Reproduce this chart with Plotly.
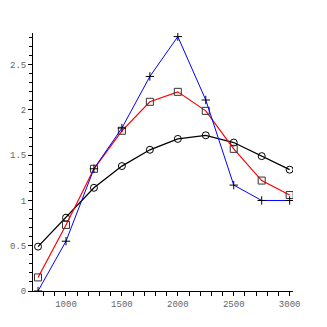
import plotly.graph_objects as go

x_vals = [750, 1000, 1250, 1500, 1750, 2000, 2250, 2500, 2750, 3000]
blue_vals = [0.0, 0.55, 1.35, 1.80, 2.37, 2.81, 2.11, 1.17, 1.00, 1.00]
red_vals = [0.15, 0.73, 1.35, 1.77, 2.09, 2.20, 1.99, 1.57, 1.22, 1.06]
black_vals = [0.49, 0.81, 1.14, 1.38, 1.56, 1.68, 1.72, 1.64, 1.49, 1.34]

fig = go.Figure()
fig.add_trace(go.Scatter(
    x=x_vals, y=black_vals, mode="lines+markers",
    line=dict(color="black", width=1.3),
    marker=dict(symbol="circle-open", size=7, color="black", line=dict(color="#222", width=1)),
))
fig.add_trace(go.Scatter(
    x=x_vals, y=red_vals, mode="lines+markers",
    line=dict(color="red", width=1.2),
    marker=dict(symbol="square-open", size=7, color="#333", line=dict(color="#333", width=1)),
))
fig.add_trace(go.Scatter(
    x=x_vals, y=blue_vals, mode="lines+markers",
    line=dict(color="blue", width=1),
    marker=dict(symbol="cross-thin", size=6, color="black", line=dict(color="black", width=1)),
))

axis_font = dict(family="Liberation Mono, DejaVu Sans Mono, monospace", size=9, color="#666")
fig.update_layout(
    width=319, height=319,
    margin=dict(l=25, r=34, t=25, b=36, autoexpand=False),
    paper_bgcolor="white", plot_bgcolor="white",
    showlegend=False,
    xaxis=dict(
        range=[705, 3030], showgrid=False, zeroline=False,
        showline=True, linecolor="black", linewidth=1,
        ticks="outside", ticklen=4, tickcolor="black", tickwidth=1,
        tick0=0, dtick=500, tickfont=axis_font,
        minor=dict(dtick=100, ticks="outside", ticklen=4, tickcolor="black"),
    ),
    yaxis=dict(
        range=[0, 2.85], showgrid=False, zeroline=False,
        showline=True, linecolor="black", linewidth=1,
        ticks="outside", ticklen=4, tickcolor="black", tickwidth=1,
        tick0=0, dtick=0.5, tickfont=axis_font,
        minor=dict(dtick=0.1, ticks="outside", ticklen=3, tickcolor="black"),
    ),
)
fig.write_html("out.html")
